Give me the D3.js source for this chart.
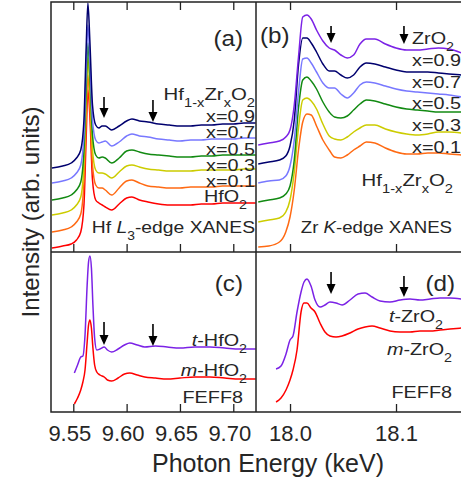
<!DOCTYPE html>
<html><head><meta charset="utf-8">
<script src="https://cdn.jsdelivr.net/npm/d3@7"></script>
<style>
body{margin:0;background:#fff}
svg text{font-family:"Liberation Sans",Arial,sans-serif;fill:#262626}
</style></head>
<body><svg width="461" height="480"></svg>
<script>
// ---- data (arb. units incl. vertical offsets) ----
const hfEnergy = [9.530, 9.540, 9.548, 9.553, 9.557, 9.560, 9.562, 9.5637, 9.5655, 9.568, 9.571, 9.574, 9.577, 9.580, 9.586, 9.593, 9.600, 9.605, 9.612, 9.620, 9.630, 9.640, 9.650, 9.660, 9.670, 9.680, 9.690, 9.700, 9.710, 9.721];
const hfHfO2 = [4, 6, 8, 12, 20, 47, 112, 162, 137, 72, 52, 49, 47, 45, 42, 48, 54, 55, 52, 50, 48, 47, 47, 47, 48, 48, 49, 49, 49, 49];
const hfX01 = [20, 22, 25, 30, 38, 70, 130, 177, 147, 87, 67, 64, 64, 62, 57, 64, 71, 72, 69, 66, 65, 64, 64, 65, 65, 65, 66, 66, 66, 66];
const hfX03 = [37, 39, 42, 47, 55, 87, 147, 194, 162, 102, 82, 79, 79, 78, 74, 80, 86, 87, 85, 83, 82, 81, 81, 81, 82, 82, 82, 82, 83, 83];
const hfX05 = [52, 54, 57, 62, 70, 102, 162, 209, 177, 117, 97, 94, 95, 94, 89, 94, 101, 102, 100, 98, 97, 96, 95, 95, 96, 96, 97, 97, 97, 97];
const hfX07 = [69, 71, 74, 79, 87, 117, 182, 227, 192, 132, 112, 109, 110, 111, 106, 110, 116, 118, 116, 115, 113, 112, 111, 112, 112, 113, 113, 113, 114, 114];
const hfX09 = [84, 86, 89, 94, 102, 132, 202, 249, 212, 147, 127, 124, 126, 126, 122, 126, 131, 133, 131, 130, 128, 127, 126, 126, 127, 127, 128, 128, 129, 129];

const zrEnergy = [17.970, 17.980, 17.990, 17.996, 18.000, 18.004, 18.008, 18.012, 18.016, 18.020, 18.025, 18.031, 18.037, 18.042, 18.048, 18.054, 18.060, 18.066, 18.072, 18.080, 18.090, 18.100, 18.110, 18.120, 18.130, 18.140, 18.150, 18.162];
const zrX01 = [5, 6, 10, 20, 35, 62, 102, 130, 138, 137, 126, 112, 102, 95, 94, 97, 102, 106, 110, 109, 104, 100, 98, 98, 99, 99, 98, 97];
const zrX03 = [30, 32, 34, 40, 52, 80, 124, 152, 154, 151, 143, 128, 116, 113, 112, 115, 120, 124, 127, 127, 123, 120, 118, 117, 118, 120, 120, 119];
const zrX05 = [50, 52, 54, 58, 66, 92, 144, 172, 175, 171, 163, 150, 140, 135, 134, 136, 142, 148, 152, 151, 148, 145, 143, 142, 141, 140, 140, 140];
const zrX07 = [69, 71, 72, 76, 86, 112, 160, 193, 194, 189, 180, 169, 164, 164, 158, 154, 159, 167, 170, 169, 166, 163, 161, 160, 159, 158, 157, 155];
const zrX09 = [88, 90, 92, 96, 106, 132, 187, 214, 214, 209, 200, 188, 181, 181, 177, 174, 177, 185, 189, 188, 185, 182, 180, 180, 180, 179, 178, 177];
const zrZrO2 = [107, 109, 111, 115, 122, 147, 195, 235, 237, 233, 222, 211, 204, 202, 197, 194, 197, 208, 213, 213, 208, 204, 202, 202, 203, 204, 203, 199];

const feffHfEnergy = [9.551, 9.554, 9.557, 9.559, 9.561, 9.563, 9.5643, 9.5656, 9.567, 9.5684, 9.570, 9.572, 9.575, 9.579, 9.582, 9.586, 9.592, 9.598, 9.603, 9.610, 9.617, 9.627, 9.638, 9.650, 9.664, 9.678, 9.692, 9.706, 9.721];
const feffHfT = [39, 47, 55, 56, 77, 127, 150, 156, 144, 107, 74, 62, 63, 65, 62, 60, 63, 67, 69, 67, 65, 66, 65, 64, 65, 65, 64, 63, 63];
const feffHfM = [8, 14, 22, 30, 42, 70, 87, 92, 84, 64, 47, 40, 37, 35, 32, 31, 34, 38, 39, 37, 35, 34, 33, 34, 35, 35, 34, 33, 33];

const feffZrEnergy = [17.9868, 17.9915, 17.9962, 18.0000, 18.0028, 18.0066, 18.0104, 18.0132, 18.0160, 18.0198, 18.0236, 18.0283, 18.0330, 18.0377, 18.0434, 18.0491, 18.0566, 18.0642, 18.0708, 18.0774, 18.0849, 18.0943, 18.1038, 18.1132, 18.1226, 18.1321, 18.1415, 18.1509, 18.162];
const feffZrT = [43, 46, 58, 72, 76, 100, 120, 130, 133, 126, 112, 105, 107, 110, 109, 107, 112, 118, 119, 115, 111, 110, 112, 113, 112, 113, 114, 114, 113];
const feffZrM = [10, 14, 22, 32, 42, 62, 100, 109, 109, 104, 100, 89, 80, 76, 75, 76, 79, 83, 85, 86, 84, 81, 80, 80, 81, 81, 82, 83, 84];

const hfTicks = [9.55, 9.60, 9.65, 9.70];
const zrTicks = [18.0, 18.1];
const hfArrows = [9.5788, 9.6247];
const zrArrows = [18.0387, 18.1075];

const C = {hfo2: "#ff0000", x01: "#ff6a13", x03: "#cccc00", x05: "#128a12", x07: "#7878ff", x09: "#00006e", zro2: "#7b22e6"};

// ---- layout ----
const svg = d3.select("svg");
const L = 51, M = 256, R = 463, T = 2, H = 252, B = 412;

const xHf = d3.scaleLinear().domain([9.5291, 9.7213]).range([L, M]);
const xZr = d3.scaleLinear().domain([17.9679, 18.1632]).range([M, R]);
const yTop = d3.scaleLinear().domain([0, 250]).range([H, T]);
const yBot = d3.scaleLinear().domain([0, 160]).range([B, H]);

const defs = svg.append("defs");
function clip(id, x0, y0, x1, y1) {
    defs.append("clipPath").attr("id", id).append("rect")
        .attr("x", x0).attr("y", y0).attr("width", x1 - x0).attr("height", y1 - y0);
}
clip("ca", L, T, M, H); clip("cb", M, T, R, H); clip("cc", L, H, M, B); clip("cd", M, H, R, B);

function curves(clipId, x, y, energy, list) {
    const g = svg.append("g").attr("clip-path", `url(#${clipId})`);
    const line = d3.line().x(d => x(d[0])).y(d => y(d[1])).curve(d3.curveMonotoneX);
    list.forEach(([vals, col]) => {
        g.append("path")
            .attr("d", line(energy.map((e, i) => [e, vals[i]])))
            .attr("fill", "none").attr("stroke", col).attr("stroke-width", 1.5)
            .attr("stroke-linejoin", "round");
    });
}

curves("ca", xHf, yTop, hfEnergy, [[hfHfO2, C.hfo2], [hfX01, C.x01], [hfX03, C.x03], [hfX05, C.x05], [hfX07, C.x07], [hfX09, C.x09]]);
curves("cb", xZr, yTop, zrEnergy, [[zrX01, C.x01], [zrX03, C.x03], [zrX05, C.x05], [zrX07, C.x07], [zrX09, C.x09], [zrZrO2, C.zro2]]);
curves("cc", xHf, yBot, feffHfEnergy, [[feffHfM, C.hfo2], [feffHfT, C.zro2]]);
curves("cd", xZr, yBot, feffZrEnergy, [[feffZrM, C.hfo2], [feffZrT, C.zro2]]);

// ticks (inward, top and bottom of each panel)
function ticks(x, vals, yPos, inward) {
    const ax = (inward > 0 ? d3.axisTop(x) : d3.axisBottom(x)).tickValues(vals).tickSize(-8).tickFormat("");
    const g = svg.append("g").attr("transform", `translate(0,${yPos})`).call(ax);
    g.select(".domain").remove();
    g.selectAll("line").attr("stroke", "#222").attr("stroke-width", 1.3);
}
ticks(xHf, hfTicks, T, 1); ticks(xHf, hfTicks, H, -1);
ticks(xZr, zrTicks, T, 1); ticks(xZr, zrTicks, H, -1);
ticks(xHf, hfTicks, B, -1); ticks(xZr, zrTicks, B, -1);

// bottom tick labels
function tickLabels(x, vals, fmt, dx) {
    const ax = d3.axisBottom(x).tickValues(vals).tickSize(0).tickPadding(13).tickFormat(d3.format(fmt));
    const g = svg.append("g").attr("transform", `translate(0,${B})`).call(ax);
    g.select(".domain").remove();
    g.selectAll("text").attr("dx", dx).style("font-size", "22px")
        .style("font-family", '"Liberation Sans",Arial,sans-serif').attr("fill", "#262626");
}
tickLabels(xHf, hfTicks, ".2f", -4);
tickLabels(xZr, zrTicks, ".1f", 0);

// frame
const frame = svg.append("g").attr("stroke", "#222").attr("stroke-width", 1.5).attr("fill", "none");
frame.append("path").attr("d", `M${R},${T}H${L}V${B}H${R}`);
frame.append("line").attr("x1", M).attr("x2", M).attr("y1", T).attr("y2", B);
frame.append("line").attr("x1", L).attr("x2", R).attr("y1", H).attr("y2", H);

// arrows
function arrow(xp, y0, y1) {
    svg.append("line").attr("x1", xp).attr("x2", xp).attr("y1", y0).attr("y2", y1 - 6)
        .attr("stroke", "#000").attr("stroke-width", 1.6);
    svg.append("path").attr("d", `M${xp - 4.5},${y1 - 10}L${xp + 4.5},${y1 - 10}L${xp},${y1}Z`).attr("fill", "#000");
}
arrow(xHf(hfArrows[0]), 97, 118); arrow(xHf(hfArrows[1]), 100, 122);
arrow(xZr(zrArrows[0]), 26, 43); arrow(xZr(zrArrows[1]), 26, 44);
arrow(xHf(hfArrows[0]), 322, 345); arrow(xHf(hfArrows[1]), 324, 346);
arrow(xZr(zrArrows[0]), 272, 294); arrow(xZr(zrArrows[1]), 276, 297);

// labels
function label(xp, yp, parts, size, sx, anchor) {
    const t = svg.append("text")
        .attr("transform", `translate(${xp},${yp}) scale(${sx},1)`)
        .attr("text-anchor", anchor || "end").style("font-size", size + "px");
    parts.forEach(p => {
        const s = t.append("tspan").text(p[0]);
        if (p[1] === "sub") s.attr("baseline-shift", "sub").style("font-size", "72%");
        if (p[1] === "i") s.style("font-style", "italic");
    });
}
const HFZR = [["Hf"], ["1-x", "sub"], ["Zr"], ["x", "sub"], ["O"], ["2", "sub"]];
const SX = 1.2;

label(243, 46, [["(a)"]], 22, 1.1);
label(255, 100, HFZR, 17, SX);
["x=0.9", "x=0.7", "x=0.5", "x=0.3", "x=0.1"].forEach((s, i) => label(255, 122 + i * 16.3, [[s]], 16.5, SX));
label(247, 202, [["HfO"], ["2", "sub"]], 16.5, SX);
label(255, 233, [["Hf "], ["L", "i"], ["3", "sub"], ["-edge XANES"]], 16.5, 1.17);

label(260, 43, [["(b)"]], 22, 1.1, "start");
label(412, 44, [["ZrO"], ["2", "sub"]], 16.5, SX, "start");
["x=0.9", "x=0.7", "x=0.5", "x=0.3", "x=0.1"].forEach((s, i) => label(412, 66 + i * 21.7, [[s]], 16.5, SX, "start"));
label(453, 186, HFZR, 17, SX);
label(452, 233, [["Zr "], ["K", "i"], ["-edge XANES"]], 16.5, 1.13);

label(243, 291, [["(c)"]], 22, 1.1);
label(247, 346, [["t", "i"], ["-HfO"], ["2", "sub"]], 16.5, SX);
label(247, 376, [["m", "i"], ["-HfO"], ["2", "sub"]], 16.5, SX);
label(243, 403, [["FEFF8"]], 16.5, SX);

label(455, 291, [["(d)"]], 22, 1.1);
label(443, 322, [["t", "i"], ["-ZrO"], ["2", "sub"]], 16.5, SX);
label(452, 355, [["m", "i"], ["-ZrO"], ["2", "sub"]], 16.5, SX);
label(452, 398, [["FEFF8"]], 16.5, SX);

// axis titles
svg.append("text").attr("transform", "translate(39,212) rotate(-90)")
    .attr("text-anchor", "middle").style("font-size", "24px").text("Intensity (arb. units)");
svg.append("text").attr("x", 268).attr("y", 472)
    .attr("text-anchor", "middle").style("font-size", "25px").text("Photon Energy (keV)");
</script>
</body></html>
